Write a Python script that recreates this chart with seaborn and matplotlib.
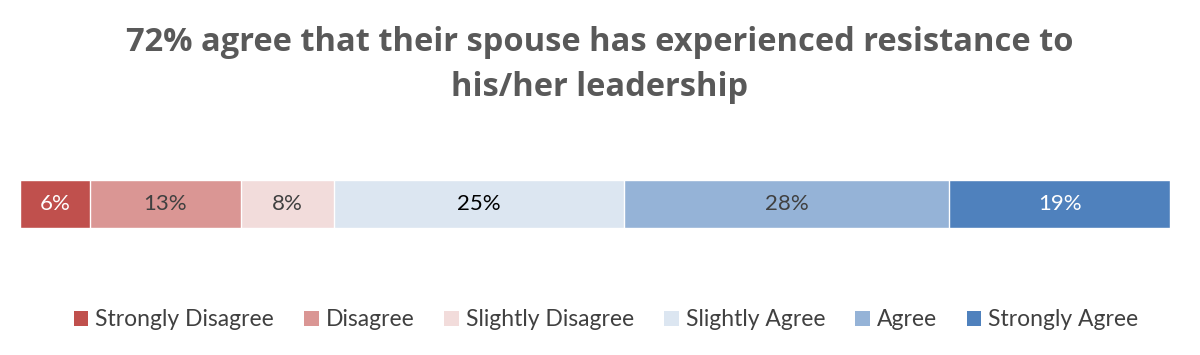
import matplotlib.pyplot as plt
import numpy as np
import pandas as pd
import seaborn as sns
from matplotlib.patches import Patch

categories = ["Strongly Disagree", "Disagree", "Slightly Disagree",
              "Slightly Agree", "Agree", "Strongly Agree"]
values = [6, 13, 8, 25, 28, 19]
labels = ["6%", "13%", "8%", "25%", "28%", "19%"]
colors = ["#C0504D", "#DA9694", "#F2DCDB", "#DCE6F1", "#95B3D7", "#4F81BD"]
label_colors = ["white", "#404040", "#404040", "black", "#404040", "white"]
title = "72% agree that their spouse has experienced resistance to\nhis/her leadership"

sns.set_theme(style="white")
plt.rcParams["font.family"] = ["Lato", "DejaVu Sans"]

df = pd.DataFrame({"category": categories, "value": values})
df["cum"] = np.cumsum(df["value"])
df["row"] = "all"

fig = plt.figure(figsize=(12, 3.55), dpi=100)
ax = fig.add_axes([20 / 1200, (355 - 228) / 355, 1150 / 1200, 48 / 355])

# stacked bar: draw cumulative totals from largest down so each covers the next
for i in reversed(range(len(df))):
    sns.barplot(x=[df["cum"][i]], y=[df["row"][i]], color=colors[i], width=1.0,
                saturation=1, orient="h", ax=ax)
for i, row in df.iterrows():
    ax.text(row["cum"] - row["value"] / 2, 0, labels[i], ha="center", va="center",
            fontsize=16, color=label_colors[i])

ax.set_xlim(0, df["cum"].iloc[-1])
ax.set_ylim(0.5, -0.5)
ax.axis("off")

fig.text(0.5, 1 - 65 / 355, title, ha="center", va="center", fontsize=23.5,
         weight="bold", color="#595959", linespacing=1.5,
         family=["Open Sans", "DejaVu Sans"])

handles = [Patch(facecolor=c, edgecolor="none") for c in colors]
fig.legend(handles, categories, loc="center", bbox_to_anchor=(0.505, 1 - 320 / 355),
           ncol=6, frameon=False, fontsize=16.5, handlelength=0.65, handleheight=0.65,
           handletextpad=0.3, columnspacing=1.3, labelcolor="#404040")

fig.savefig("out.png", dpi=100)
plt.close(fig)
